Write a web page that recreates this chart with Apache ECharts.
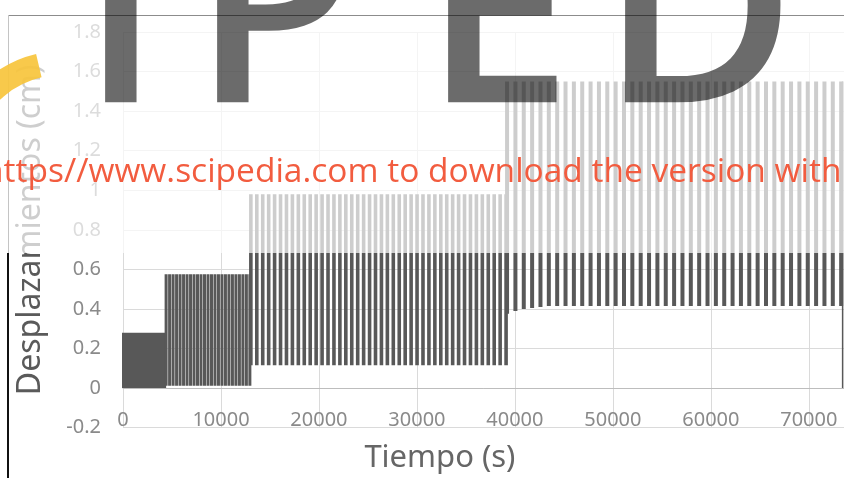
<!DOCTYPE html>
<html><head><meta charset="utf-8">
<script src="https://cdn.jsdelivr.net/npm/echarts@6/dist/echarts.min.js"></script>
<style>html,body{margin:0;padding:0;background:#fff}#c{width:844px;height:478px}</style>
</head><body><div id="c"></div>
<script>
// ---- data ----
const yTickLabels = ['-0.2','0','0.2','0.4','0.6','0.8','1','1.2','1.4','1.6','1.8'];
const xTickLabels = ['0','10000','20000','30000','40000','50000','60000','70000'];
// loading stages (time in s, displacement in cm)
const stageStart  = [0, 4400, 13050, 39200];
const stageEnd    = [4300, 12950, 39100, 73300];
const stageCycles = [44, 25, 44, 41];
const stageLow    = [0, 0.012, 0.115, 0.415];
const stageHigh   = [0.28, 0.575, 0.98, 1.55];
const stage4FirstLows = [0.375, 0.39, 0.40, 0.405, 0.41];
const unloadTime = 73450;
const unloadFrom = 1.55;

// ---- build series ----
function stageData(s) {
  const out = [];
  const n = stageCycles[s];
  const step = (stageEnd[s] - stageStart[s]) / (n - 1);
  for (let k = 0; k < n; k++) {
    const t = stageStart[s] + k * step;
    let lo = stageLow[s];
    if (s === 3 && k < stage4FirstLows.length) lo = stage4FirstLows[k];
    out.push([t, lo], [t, stageHigh[s]], [t, '-']);
  }
  return out;
}
const widths = [2, 3, 3.6, 4];
const series = [0,1,2,3].map(s => ({
  type: 'line', data: stageData(s), showSymbol: false, symbol: 'none',
  connectNulls: false, animation: false, silent: true,
  lineStyle: { color: '#585858', width: widths[s], cap: 'butt' }, z: 3
}));
series.push({
  type: 'line', data: [[unloadTime, unloadFrom], [unloadTime, 0]], symbol: 'none',
  animation: false, lineStyle: { color: '#585858', width: 1.5 }, z: 3
});

const FONT = 'Noto Sans';
const WM = '600 268px "Open Sans"';
const WMFILL = 'rgba(0,0,0,0.58)';
const chart = echarts.init(document.getElementById('c'));
chart.setOption({
  animation: false,
  backgroundColor: '#fff',
  grid: { left: 123, top: 32, width: 783.8, height: 395.6, containLabel: false, outerBoundsMode: 'none' },
  xAxis: {
    type: 'value', min: 0, max: 80000, interval: 10000,
    axisLine: { onZero: true, lineStyle: { color: '#bdbdbd', width: 1 } },
    axisTick: { show: false },
    splitLine: { show: true, lineStyle: { color: '#dadada' } },
    axisLabel: { fontSize: 20, color: '#8a8a8a', fontFamily: FONT, margin: -17,
      formatter: (v, i) => xTickLabels[i] },
    name: 'Tiempo (s)', nameLocation: 'middle', nameGap: 15,
    nameTextStyle: { fontSize: 31, color: '#666', fontFamily: FONT, padding: [0, 150, 0, 0] }
  },
  yAxis: {
    type: 'value', min: -0.2, max: 1.8, interval: 0.2,
    axisLine: { show: false }, axisTick: { show: false },
    splitLine: { lineStyle: { color: '#dadada' } },
    axisLabel: { fontSize: 20, color: '#8a8a8a', fontFamily: FONT, margin: 22,
      formatter: (v, i) => yTickLabels[i] },
    name: 'Desplazamientos (cm)', nameLocation: 'middle', nameGap: 76,
    nameTextStyle: { fontSize: 32, color: '#5a5a5a', fontFamily: FONT }
  },
  series: series,
  graphic: [
    { type: 'rect', z: 100, silent: true, shape: { x: 8, y: 15, width: 836, height: 238 },
      style: { fill: 'rgba(255,255,255,0.7)' } },
    { type: 'line', z: 101, shape: { x1: 8, y1: 15.5, x2: 844, y2: 15.5 }, style: { stroke: '#8c8c8c', lineWidth: 1 } },
    { type: 'line', z: 101, shape: { x1: 8.5, y1: 15, x2: 8.5, y2: 253 }, style: { stroke: '#c4c4c4', lineWidth: 1 } },
    { type: 'line', z: 101, shape: { x1: 8, y1: 253, x2: 8, y2: 478 }, style: { stroke: '#111', lineWidth: 2 } },
    { type: 'sector', z: 102, shape: { cx: 62, cy: 165, r0: 90, r: 114, startAngle: -2.75, endAngle: -1.8 },
      style: { fill: 'rgba(247,196,60,0.92)' } },
    { type: 'text', z: 103, style: { text: 'I', x: 80, y: 26, font: WM, fill: WMFILL, textVerticalAlign: 'middle' } },
    { type: 'text', z: 103, style: { text: 'P', x: 192, y: 26, font: WM, fill: WMFILL, textVerticalAlign: 'middle' } },
    { type: 'text', z: 103, style: { text: 'E', x: 423, y: 26, font: WM, fill: WMFILL, textVerticalAlign: 'middle' } },
    { type: 'text', z: 103, style: { text: 'D', x: 600, y: 26, font: WM, fill: WMFILL, textVerticalAlign: 'middle' } },
    { type: 'text', z: 104, style: { text: 'https//www.scipedia.com to download the version with', x: -17, y: 172,
      font: '33.5px "Open Sans"', fill: '#f25c3f', textVerticalAlign: 'middle' } }
  ]
});
</script></body></html>
